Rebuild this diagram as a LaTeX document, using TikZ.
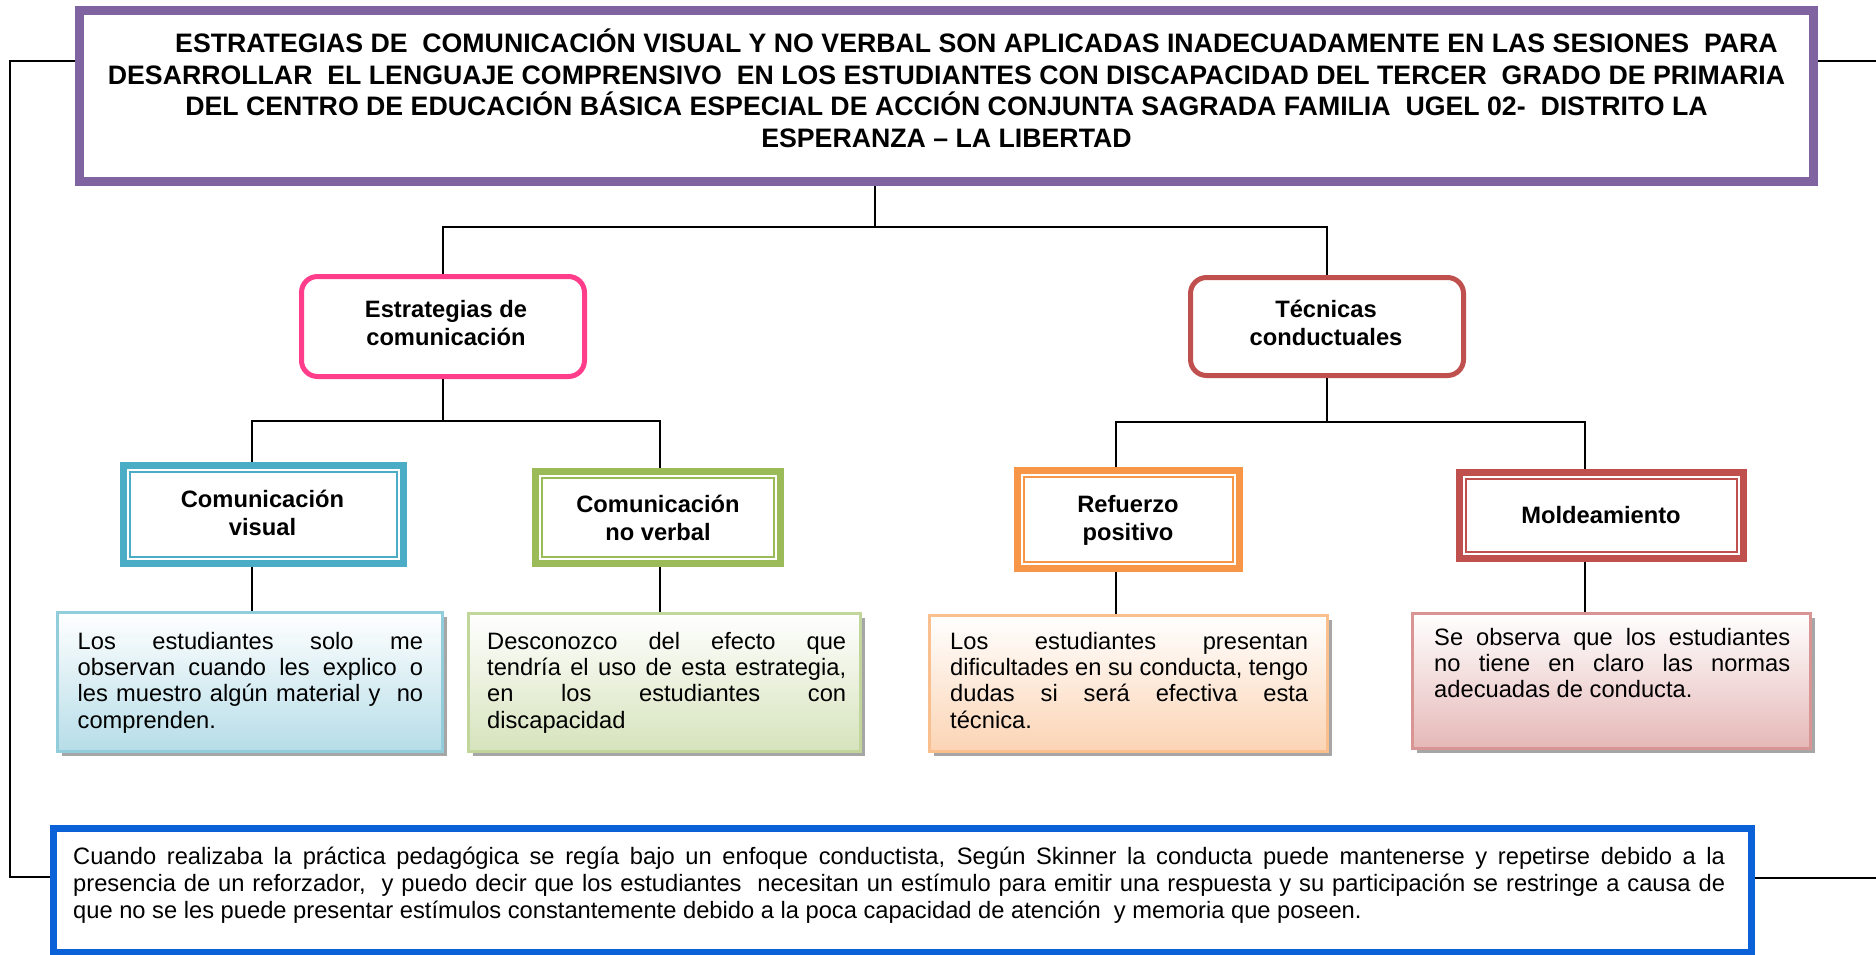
\documentclass[tikz,border=0pt]{standalone}
\usepackage{fontspec}
\setmainfont{Liberation Sans}
\usetikzlibrary{shadows}
\definecolor{purpA}{HTML}{8064A2}
\definecolor{pinkA}{HTML}{FF3D8B}
\definecolor{redA}{HTML}{C0504D}
\definecolor{tealA}{HTML}{4BACC6}
\definecolor{greenA}{HTML}{9BBB59}
\definecolor{orangeA}{HTML}{F79646}
\definecolor{blueA}{HTML}{0B62D8}
\definecolor{tbBlueL}{HTML}{92CDDC}
\definecolor{tbBlueF}{HTML}{B6DDE8}
\definecolor{tbGreenL}{HTML}{C2D69B}
\definecolor{tbGreenF}{HTML}{D6E3BC}
\definecolor{tbOrangeL}{HTML}{FABF8F}
\definecolor{tbOrangeF}{HTML}{FBD4B4}
\definecolor{tbPinkL}{HTML}{D99594}
\definecolor{tbPinkF}{HTML}{E5B8B7}
\tolerance=9999
\tikzset{
  conn/.style={draw=black, line width=1.4pt},
  frameline/.style={draw=black, line width=2.6pt},
  roundbox/.style={draw, line width=5pt, rounded corners=16pt, fill=white, inner sep=0pt},
  bandbox/.style={draw, line width=7pt, fill=white, inner sep=0pt},
  thinline/.style={draw, line width=1.5pt},
  textbox/.style={draw, line width=3pt, inner sep=0pt,
    drop shadow={shadow xshift=4pt, shadow yshift=-4pt, fill=black!50, opacity=.7}},
  lab/.style={inner sep=0pt, anchor=base, align=center, font=\fontsize{23.7pt}{28pt}\selectfont\bfseries},
  para/.style={text width=#1, inner sep=0pt, align=justify, anchor=base west,
    font=\fontsize{23.7pt}{26.4pt}\selectfont},
}
\begin{document}
\begin{tikzpicture}[x=1pt,y=-1pt]
\useasboundingbox (0,0) rectangle (1876,954);
% title
\node[bandbox, line width=9pt, draw=purpA, minimum width=1734pt, minimum height=171pt] (title) at (946.5,96) {};
\draw[thinline, purpA] ([shift={(8pt,-8pt)}]title.north west) rectangle ([shift={(-8pt,8pt)}]title.south east);
\node[lab, font=\fontsize{26.7pt}{31.5pt}\selectfont\bfseries] (titletext) at (946.5,147) {\hspace*{60pt}ESTRATEGIAS DE\ \ COMUNICACIÓN VISUAL Y NO VERBAL SON APLICADAS INADECUADAMENTE EN LAS SESIONES\ \ PARA\\
DESARROLLAR\ \ EL LENGUAJE COMPRENSIVO\ \ EN LOS ESTUDIANTES CON DISCAPACIDAD DEL TERCER\ \ GRADO DE PRIMARIA\\
DEL CENTRO DE EDUCACIÓN BÁSICA ESPECIAL DE ACCIÓN CONJUNTA SAGRADA FAMILIA\ \ UGEL 02-\ \ DISTRITO LA\\
ESPERANZA – LA LIBERTAD};
% bottom box
\node[bandbox, draw=blueA, minimum width=1698pt, minimum height=124pt] (bottom) at (902.5,890.5) {};
\node[para=1652pt, font=\fontsize{23.7pt}{27.3pt}\selectfont] (bottomtext) at (73,864) {Cuando realizaba la práctica pedagógica se regía bajo un enfoque conductista, Según Skinner la conducta puede mantenerse y repetirse debido a la\linebreak
presencia de un reforzador,\ \ y puedo decir que los estudiantes\ \ necesitan un estímulo para emitir una respuesta y su participación se restringe a causa de\linebreak
que no se les puede presentar estímulos constantemente debido a la poca capacidad de atención\ \ y memoria que poseen.};
% outer frame lines
\coordinate (cl1) at (10,61);
\coordinate (cl2) at (10,877);
\coordinate (cr1) at (1876,61);
\coordinate (cr2) at (1876,878);
\draw[frameline] (title.west |- cl1) -- (cl1) -- (cl2) -- (bottom.west |- cl2);
\draw[frameline] (title.east |- cr1) -- (cr1);
\draw[frameline] (bottom.east |- cr2) -- (cr2);
% level 1
\node[roundbox, draw=pinkA, minimum width=283pt, minimum height=100pt] (estr) at (443,326.5) {};
\node[roundbox, draw=redA, minimum width=273pt, minimum height=98pt] (tec) at (1327,326.5) {};
\node[lab] (estrtext) at (446,345) {Estrategias de\\comunicación};
\node[lab] (tectext) at (1326,345) {Técnicas\\conductuales};
\coordinate (j0) at (875,227);
\draw[conn] (title.south -| j0) -- (j0);
\draw[conn] (estr.north) -- (estr.north |- j0) -- (tec.north |- j0) -- (tec.north);
% level 2 boxes
\node[bandbox, draw=tealA, minimum width=280pt, minimum height=98pt] (cv) at (263.5,514.5) {};
\node[bandbox, draw=greenA, minimum width=245pt, minimum height=92pt] (cnv) at (658,517.5) {};
\node[bandbox, draw=orangeA, minimum width=222pt, minimum height=98pt] (rp) at (1128.5,519.5) {};
\node[bandbox, draw=redA, minimum width=284pt, minimum height=86pt] (mo) at (1601.5,515.5) {};
\foreach \n/\c in {cv/tealA, cnv/greenA, rp/orangeA, mo/redA}{
  \draw[thinline, \c, line width=1.6pt] ([shift={(6.5pt,-6.5pt)}]\n.north west) rectangle ([shift={(-6.5pt,6.5pt)}]\n.south east);
  \draw[thinline, \c, line width=1.2pt] ([shift={(10pt,-10pt)}]\n.north west) rectangle ([shift={(-10pt,10pt)}]\n.south east);
}
\node[lab] (cvtext) at (262.5,535) {Comunicación\\visual};
\node[lab] (cnvtext) at (658,540) {Comunicación\\no verbal};
\node[lab] (rptext) at (1128,540) {Refuerzo\\positivo};
\node[lab] (motext) at (1601,523) {Moldeamiento};
% level 2 connectors
\coordinate (a1) at (252,421);
\coordinate (a2) at (660,421);
\coordinate (b1) at (1116,422);
\coordinate (b2) at (1585,422);
\draw[conn] (estr.south) -- (estr.south |- a1);
\draw[conn] (cv.north -| a1) -- (a1) -- (a2) -- (cnv.north -| a2);
\draw[conn] (tec.south) -- (tec.south |- b1);
\draw[conn] (rp.north -| b1) -- (b1) -- (b2) -- (mo.north -| b2);
% text boxes
\node[textbox, draw=tbBlueL, top color=white, bottom color=tbBlueF, minimum width=385pt, minimum height=139pt] (tb1) at (250,682) {};
\node[textbox, draw=tbGreenL, top color=white, bottom color=tbGreenF, minimum width=392pt, minimum height=138pt] (tb2) at (664.5,682.5) {};
\node[textbox, draw=tbOrangeL, top color=white, bottom color=tbOrangeF, minimum width=398pt, minimum height=136pt] (tb3) at (1128.5,683.5) {};
\node[textbox, draw=tbPinkL, top color=white, bottom color=tbPinkF, minimum width=398pt, minimum height=135pt] (tb4) at (1611.5,681) {};
\draw[conn] (cv.south -| a1) -- (tb1.north -| a1);
\draw[conn] (cnv.south -| a2) -- (tb2.north -| a2);
\draw[conn] (rp.south -| b1) -- (tb3.north -| b1);
\draw[conn] (mo.south -| b2) -- (tb4.north -| b2);
\node[para=345.5pt] (tb1text) at (77.5,649) {Los estudiantes solo me\linebreak observan cuando les explico o\linebreak les muestro algún material y\ \ no\linebreak comprenden.};
\node[para=359pt] (tb2text) at (487,649) {Desconozco del efecto que\linebreak tendría el uso de esta estrategia,\linebreak en los estudiantes con\linebreak discapacidad};
\node[para=358pt] (tb3text) at (950,649) {Los estudiantes presentan\linebreak dificultades en su conducta, tengo\linebreak dudas si será efectiva esta\linebreak técnica.};
\node[para=356pt] (tb4text) at (1434,645) {Se observa que los estudiantes\linebreak no tiene en claro las normas\linebreak adecuadas de conducta.};
\end{tikzpicture}
\end{document}
